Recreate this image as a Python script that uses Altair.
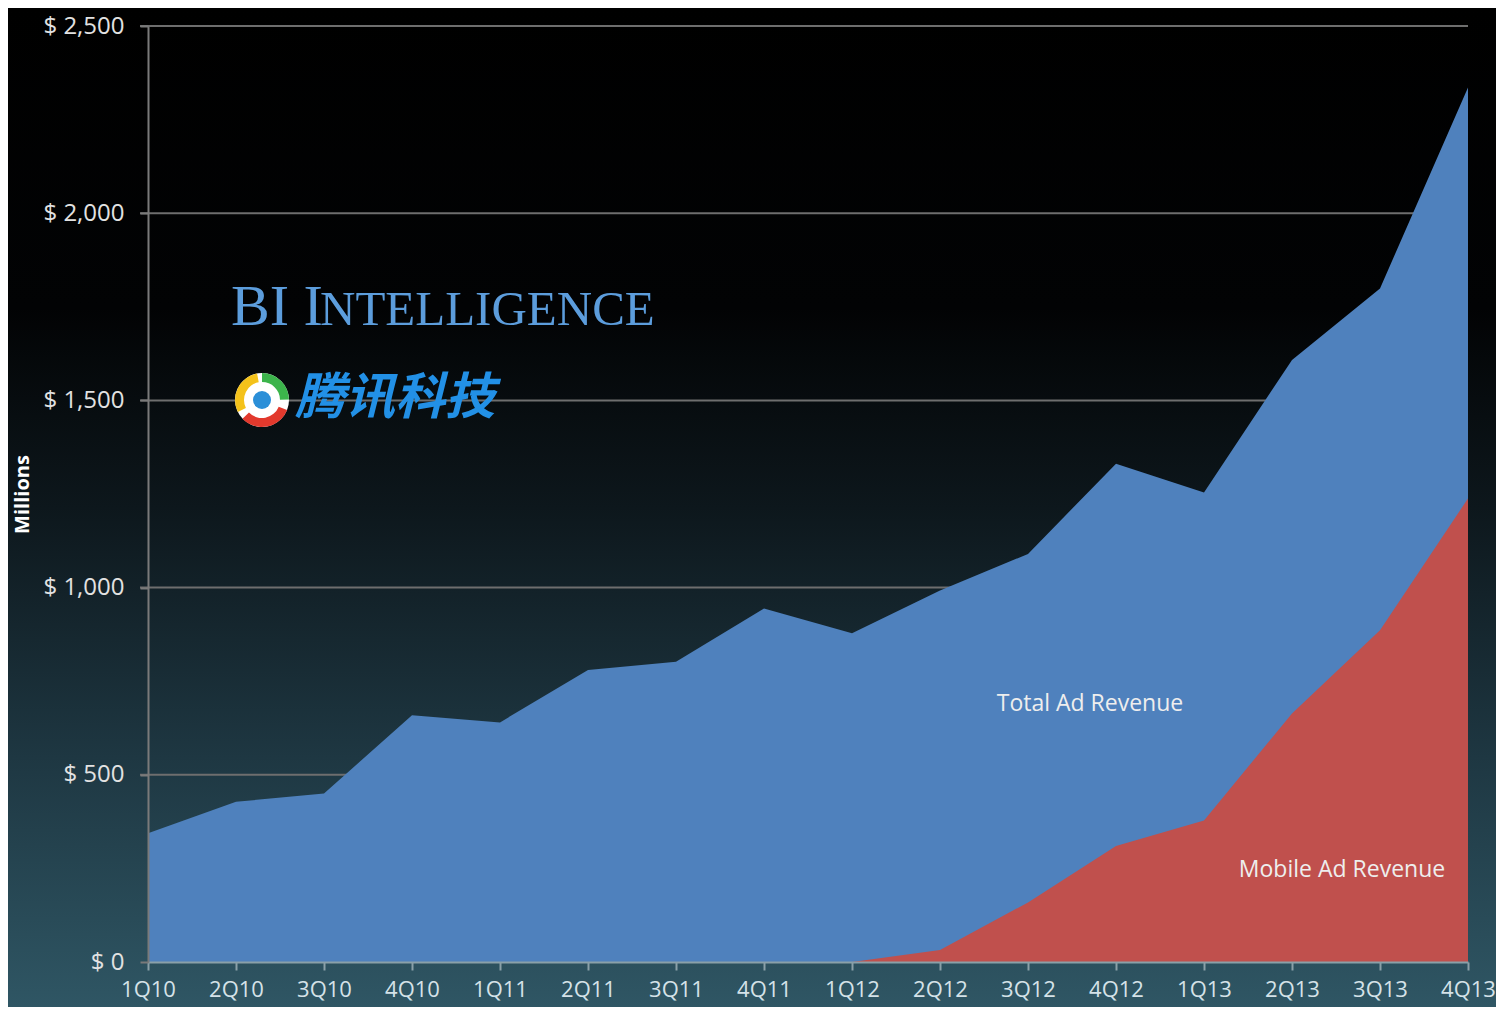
import altair as alt
import pandas as pd

# ---------------- data ----------------
quarters = ["1Q10", "2Q10", "3Q10", "4Q10", "1Q11", "2Q11", "3Q11", "4Q11",
            "1Q12", "2Q12", "3Q12", "4Q12", "1Q13", "2Q13", "3Q13", "4Q13"]
total_revenue = [344, 428, 450, 659, 640, 780, 802, 944,
                 878, 992, 1090, 1331, 1254, 1608, 1799, 2336]
mobile_quarters = ["1Q12", "2Q12", "3Q12", "4Q12", "1Q13", "2Q13", "3Q13", "4Q13"]
mobile_revenue = [0, 32, 159, 310, 378, 664, 886, 1238]
y_ticks = [0, 500, 1000, 1500, 2000, 2500]

W, H = 1320, 936
PAD = {"left": 140, "top": 18, "right": 28, "bottom": 45}

df_total = pd.DataFrame({"quarter": quarters, "value": total_revenue})
df_mobile = pd.DataFrame({"quarter": mobile_quarters, "value": mobile_revenue})
df_grid = pd.DataFrame({"value": y_ticks[1:]})
one = pd.DataFrame({"k": [0]})

x_scale = alt.Scale(type="point", domain=quarters, padding=0)
y_scale = alt.Scale(domain=[0, 2500], nice=False)

x_axis = alt.Axis(title=None, labelAngle=0, labelFont="Open Sans", labelFontSize=22,
                  labelColor="#d5e2e8", tickSize=8, tickColor="#8aa0a8", tickWidth=2,
                  domainColor="#8aa0a8", domainWidth=2, labelPadding=9, grid=False,
                  labelBound=False, zindex=1)
y_axis = alt.Axis(values=y_ticks, labelExpr="'$ ' + format(datum.value, ',')",
                  labelFont="Open Sans", labelFontSize=24, labelColor="#e2e2e2",
                  tickSize=8, tickColor="#7a7a7a", tickWidth=2, domainColor="#7a7a7a",
                  domainWidth=2, labelPadding=16, grid=False, zindex=1,
                  title="Millions", titleFont="Open Sans", titleFontSize=20,
                  titleFontWeight="bold", titleColor="#ffffff", titleAngle=-90,
                  titleX=-126, titleY=468, titleAlign="center", titleBaseline="middle")

X = alt.X("quarter:N", scale=x_scale, axis=x_axis)
Y = alt.Y("value:Q", scale=y_scale, axis=y_axis)

bg_gradient = alt.LinearGradient(
    gradient="linear", x1=0, x2=0, y1=0, y2=1,
    stops=[alt.GradientStop(color="#000000", offset=0.0),
           alt.GradientStop(color="#020304", offset=0.30),
           alt.GradientStop(color="#0d171c", offset=0.50),
           alt.GradientStop(color="#1e3742", offset=0.75),
           alt.GradientStop(color="#2f5664", offset=1.0)])

background = alt.Chart(one).mark_rect(fill=bg_gradient).encode(
    x=alt.value(-PAD["left"]), x2=alt.value(W + PAD["right"]),
    y=alt.value(-PAD["top"]), y2=alt.value(H + PAD["bottom"]))

grid = alt.Chart(df_grid).mark_rule(color="#6e6e6e", strokeWidth=2).encode(
    y=Y, x=alt.value(-8), x2=alt.value(W))

total_area = alt.Chart(df_total).mark_area(color="#4f81bd", opacity=1).encode(x=X, y=Y)
mobile_area = alt.Chart(df_mobile).mark_area(color="#c0504d", opacity=1).encode(x=X, y=Y)


def label(text, quarter, value, dx, size, color, font, align="center",
          baseline="middle", style="normal", weight="normal"):
    d = pd.DataFrame({"quarter": [quarter], "value": [value], "t": [text]})
    return alt.Chart(d).mark_text(
        dx=dx, fontSize=size, color=color, font=font, align=align,
        baseline=baseline, fontStyle=style, fontWeight=weight
    ).encode(x=X, y=Y, text="t:N")


total_lbl = label("Total Ad Revenue", "4Q12", 688, -26, 23, "#eeeeee", "Open Sans")
mobile_lbl = label("Mobile Ad Revenue", "3Q13", 246, -38, 23, "#eeeeee", "Open Sans")

bi1 = label("BI I", "1Q10", 1701, 83, 58, "#5c9ddc", "Liberation Serif",
            align="left", baseline="alphabetic")
bi2 = label("NTELLIGENCE", "1Q10", 1701, 172, 49, "#5c9ddc", "Liberation Serif",
            align="left", baseline="alphabetic")
tencent = label("腾讯科技", "1Q10", 1503, 147, 50, "#2290e6", "Noto Sans CJK SC",
                align="left", baseline="middle", style="italic", weight="bold")

# logo (decorative)
LX, LY = 114, 374


def arc(t0, t1, r0, r1, color):
    return alt.Chart(one).mark_arc(theta=t0, theta2=t1, radius=r1, radius2=r0,
                                   color=color).encode(x=alt.value(LX), y=alt.value(LY))


logo = [
    arc(0, 6.2832, 0, 27, "#ffffff"),
    arc(0.0, 1.55, 18, 27, "#3cb44b"),
    arc(1.95, 3.95, 18, 27, "#e2392d"),
    arc(4.25, 6.1, 18, 27, "#f4c21a"),
    arc(0, 6.2832, 0, 9, "#2b8fd8"),
]

chart = alt.layer(background, grid, total_area, mobile_area, total_lbl, mobile_lbl,
                  bi1, bi2, *logo, tencent).properties(
    width=W, height=H, padding=PAD,
    autosize=alt.AutoSizeParams(type="none"),
    background="#000000",
).configure_view(stroke=None)

chart.save("out.html", embed_options={"renderer": "svg", "actions": False})
